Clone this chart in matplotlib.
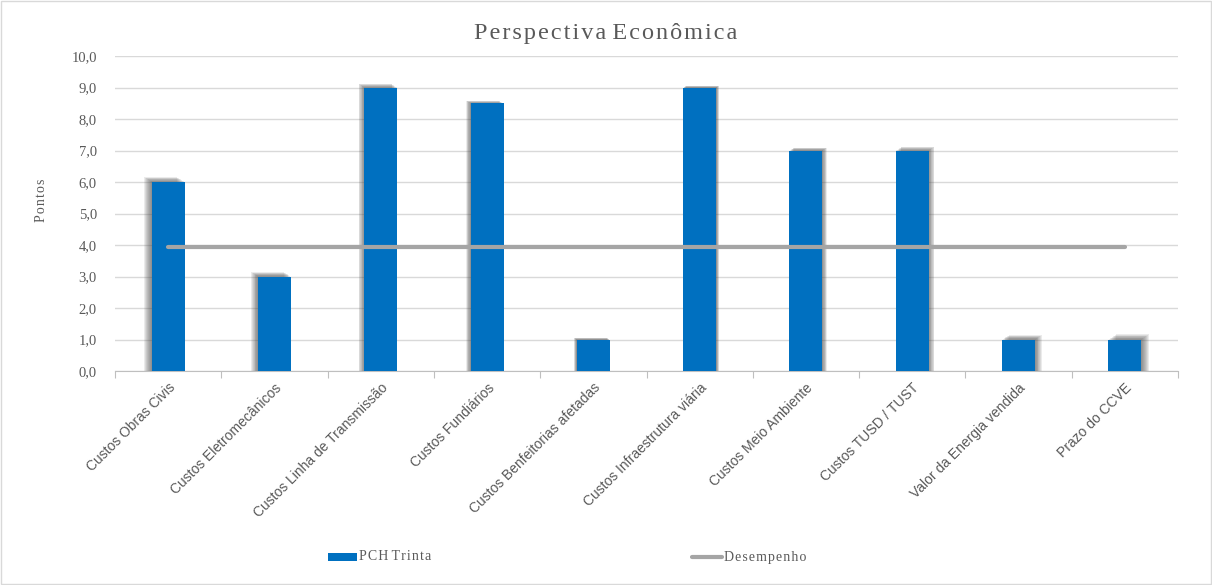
import numpy as np
import matplotlib.pyplot as plt
from matplotlib.ticker import FuncFormatter, FixedLocator
from matplotlib.patches import Rectangle

categorias = ['Custos Obras Civis', 'Custos Eletromecânicos', 'Custos Linha de Transmissão',
              'Custos Fundiários', 'Custos Benfeitorias afetadas', 'Custos Infraestrutura viária',
              'Custos Meio Ambiente', 'Custos TUSD / TUST', 'Valor da Energia vendida', 'Prazo do CCVE']
pch_trinta = [6.0, 3.0, 9.0, 8.5, 1.0, 9.0, 7.0, 7.0, 1.0, 1.0]
desempenho = [3.94] * len(categorias)

azul = '#0070C0'
cinza = '#A5A5A5'
texto = '#595959'
hs = '\u200a'  # espaçamento entre letras


def espacado(s):
    return ' '.join(hs.join(p) for p in s.split(' '))


fig = plt.figure(figsize=(12.12, 5.85), dpi=100)
ax = fig.add_axes([115 / 1212, 1 - 371 / 585, (1178 - 115) / 1212, (371 - 56) / 585])

x = np.arange(len(categorias))
largura = 0.31
px = 10 / 1063  # um pixel em unidades de x

# sombras suaves, deslocadas para fora a partir do centro
for i, v in enumerate(pch_trinta):
    lado = np.sign(i - 4.5) * (0.3 + 0.7 * abs(i - 4.5) / 4.5)
    for k in range(1, 9):
        ax.add_patch(Rectangle((x[i] - largura / 2 + lado * k * px, 0), largura, v + 0.02 * k * abs(lado),
                               facecolor='#505050', edgecolor='none', alpha=0.11, zorder=2))

ax.bar(x, pch_trinta, width=largura, color=azul, zorder=3, label='PCH Trinta')
ax.plot(x, desempenho, color=cinza, lw=3, solid_capstyle='round', zorder=4, label='Desempenho')

ax.set_xlim(-0.5, len(categorias) - 0.5)
ax.set_ylim(0, 10)
ax.yaxis.set_major_locator(FixedLocator(np.arange(0, 11, 1)))
ax.yaxis.set_major_formatter(FuncFormatter(lambda v, p: f'{v:.1f}'.replace('.', ',')))
ax.grid(axis='y', color='#D9D9D9', lw=1, zorder=0)

for s in ['top', 'right', 'left']:
    ax.spines[s].set_visible(False)
ax.spines['bottom'].set_color('#BFBFBF')
ax.spines['bottom'].set_zorder(1)

ax.set_xticks(np.arange(-0.5, len(categorias), 1), minor=False)
ax.set_xticklabels([])
ax.tick_params(axis='x', which='major', length=5, color='#BFBFBF', direction='out')
ax.set_xticks(x, minor=True)
ax.set_xticklabels(categorias, minor=True, rotation=45, ha='right', rotation_mode='anchor',
                   fontsize=10, family='Liberation Sans', color=texto)
ax.tick_params(axis='x', which='minor', length=0, pad=7)
ax.tick_params(axis='y', length=0, labelsize=10.5, labelcolor=texto, pad=13)
for t in ax.get_yticklabels():
    t.set_family('Liberation Serif')

ax.set_ylabel(espacado('Pontos'), family='Liberation Serif', fontsize=10, color=texto)
ax.yaxis.set_label_coords(-(115 - 48) / 1063, (371 - 200) / 315)

fig.text(0.5, 1 - 33 / 585, espacado('Perspectiva Econômica'),
         ha='center', va='center', family='Liberation Serif', fontsize=17.5, color=texto)

# legenda
fig.patches.append(Rectangle((328 / 1212, 1 - 561 / 585), 29 / 1212, 8 / 585,
                             transform=fig.transFigure, facecolor=azul, edgecolor='none'))
fig.text(359 / 1212, 1 - 557 / 585, espacado('PCH Trinta'), family='Liberation Serif', fontsize=10,
         color=texto, va='center')
fig.add_artist(plt.Line2D([692 / 1212, 722 / 1212], [1 - 557 / 585, 1 - 557 / 585],
                          transform=fig.transFigure, color=cinza, lw=3, solid_capstyle='round'))
fig.text(724 / 1212, 1 - 557 / 585, espacado('Desempenho'), family='Liberation Serif', fontsize=10,
         color=texto, va='center')

fig.patches.append(Rectangle((1 / 1212, 1 / 585), 1 - 2 / 1212, 1 - 2 / 585, transform=fig.transFigure,
                             facecolor='none', edgecolor='#D9D9D9', lw=1))

fig.savefig('out.png', dpi=100)
